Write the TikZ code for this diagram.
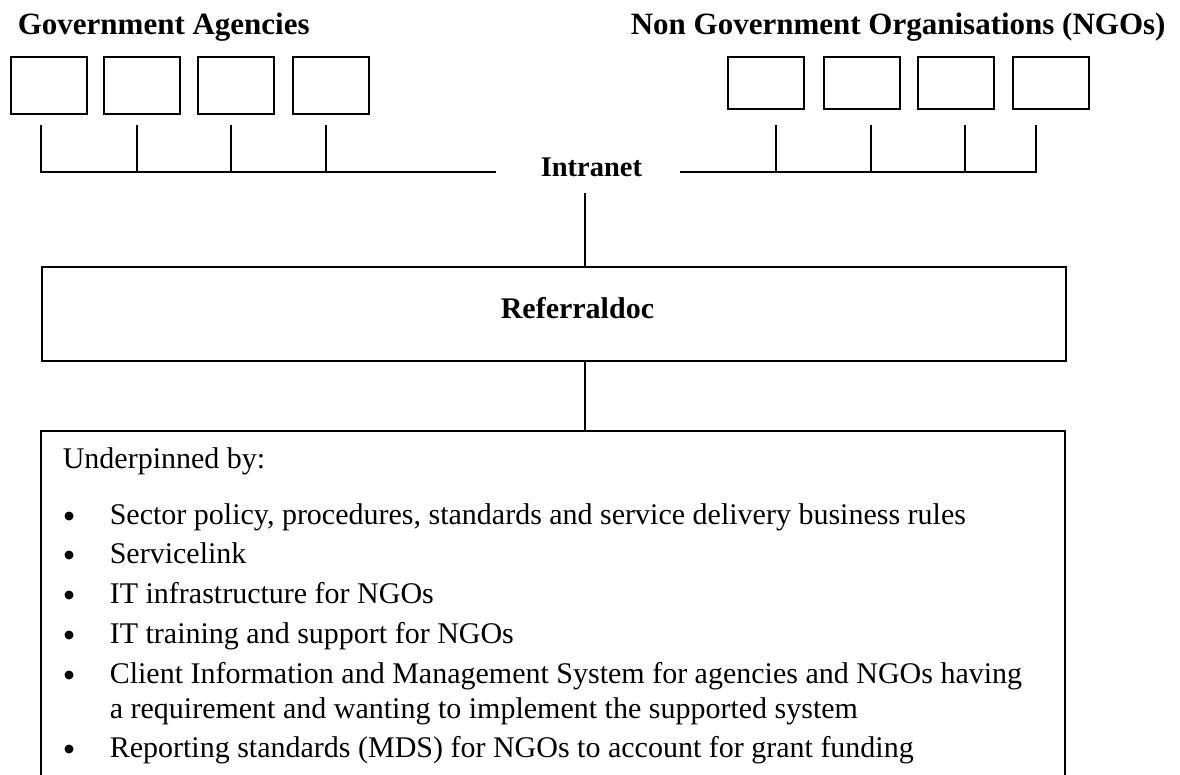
\documentclass[tikz,border=0pt]{standalone}
\usepackage{fontspec}
\setmainfont{Liberation Serif}
\begin{document}
\begin{tikzpicture}[x=1pt,y=-1pt,line width=1.6pt,
  agency/.style={draw,inner sep=0pt,anchor=north west,minimum width=76pt,minimum height=57pt},
  title/.style={font=\fontsize{31}{36}\selectfont\bfseries,inner sep=0pt,anchor=base west},
  body/.style={font=\fontsize{30}{36}\selectfont,inner sep=0pt,anchor=base west},
  dot/.style={circle,fill,inner sep=0pt,minimum size=9pt}]
\useasboundingbox (0,0) rectangle (1180,775);
\clip (0,0) rectangle (1180,775);

% titles
\node[title] (tga) at (17,35) {Government Agencies};
\node[title] (tngo) at (630,35) {Non Government Organisations (NGOs)};

% government agency boxes
\node[agency] (g1) at (10,56) {};
\node[agency] (g2) at (103,56) {};
\node[agency] (g3) at (197,56) {};
\node[agency] (g4) at (292,56) {};

% NGO boxes
\node[agency,minimum height=52pt] (n1) at (727,56) {};
\node[agency,minimum height=52pt] (n2) at (823,56) {};
\node[agency,minimum height=52pt] (n3) at (917,56) {};
\node[agency,minimum height=52pt] (n4) at (1012,56) {};

% intranet
\node[title,font=\fontsize{28.5}{34}\selectfont\bfseries] (intra) at (540,177) {Intranet};

% left bus
\coordinate (gd1) at (41,125);
\coordinate (gd2) at (137,125);
\coordinate (gd3) at (231,125);
\coordinate (gd4) at (326,125);
\coordinate (gbus) at (496,172);
\draw (gd1) -- (gd1 |- gbus) -- (gbus);
\draw (gd2) -- (gd2 |- gbus);
\draw (gd3) -- (gd3 |- gbus);
\draw (gd4) -- (gd4 |- gbus);

% right bus
\coordinate (nd1) at (776,125);
\coordinate (nd2) at (871,125);
\coordinate (nd3) at (965,125);
\coordinate (nd4) at (1036,125);
\coordinate (nbus) at (680,172);
\draw (nbus) -- (nd4 |- nbus) -- (nd4);
\draw (nd1) -- (nd1 |- nbus);
\draw (nd2) -- (nd2 |- nbus);
\draw (nd3) -- (nd3 |- nbus);

% Referraldoc
\node[draw,inner sep=0pt,anchor=north west,minimum width=1024pt,minimum height=94pt] (ref) at (41,266) {};
\node[title,font=\fontsize{30}{36}\selectfont\bfseries] (reft) at (500,319) {Referraldoc};
\coordinate (ilow) at (585,193);
\draw (ilow) -- (ilow |- ref.north);

% underpinned box (cut off at the bottom)
\coordinate (ubtop) at (585,431);
\draw (41,800) -- (41,431) -- (1065,431) -- (1065,800);
\draw (ref.south -| ubtop) -- (ubtop);

\node[body] (u0) at (62,468) {Underpinned by:};
\node[dot] (b1) at (69,516) {};
\node[body] (u1) at (109,524) {Sector policy, procedures, standards and service delivery business rules};
\node[dot] (b2) at (69,555) {};
\node[body] (u2) at (109,563) {Servicelink};
\node[dot] (b3) at (69,595) {};
\node[body] (u3) at (109,603) {IT infrastructure for NGOs};
\node[dot] (b4) at (69,635) {};
\node[body] (u4) at (109,643) {IT training and support for NGOs};
\node[dot] (b5) at (69,675) {};
\node[body] (u5) at (109,683) {Client Information and Management System for agencies and NGOs having};
\node[body] (u5b) at (109,718) {a requirement and wanting to implement the supported system};
\node[dot] (b6) at (69,749) {};
\node[body] (u6) at (109,757) {Reporting standards (MDS) for NGOs to account for grant funding};
\end{tikzpicture}
\end{document}
